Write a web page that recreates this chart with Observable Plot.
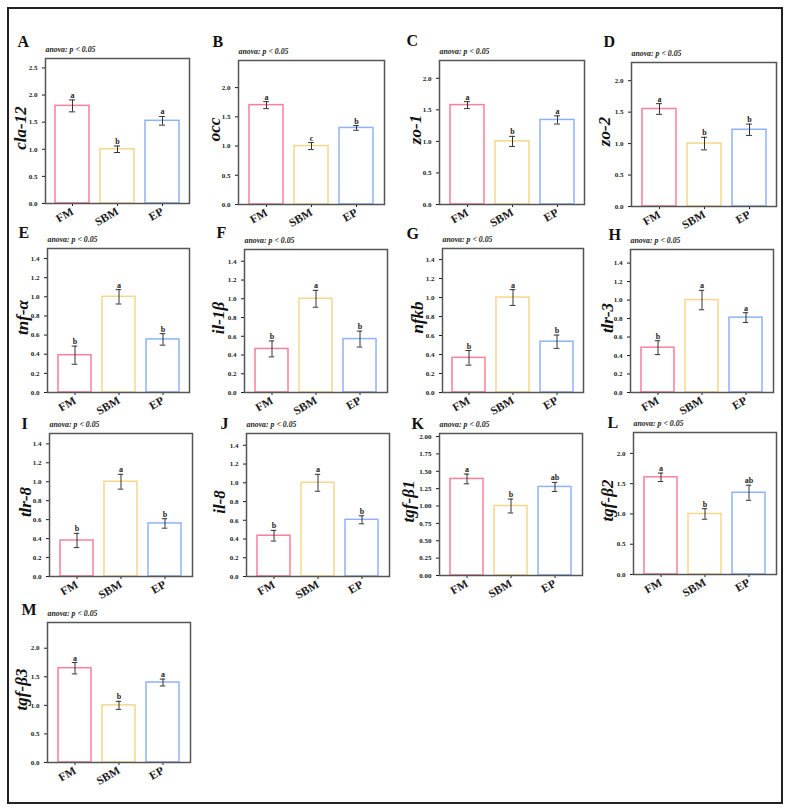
<!DOCTYPE html>
<html>
<head>
<meta charset="utf-8">
<script src="https://cdn.jsdelivr.net/npm/d3@7"></script>
<script src="https://cdn.jsdelivr.net/npm/@observablehq/plot@0.6"></script>
<style>
  html, body { margin: 0; padding: 0; background: #fff; }
  #page { position: relative; width: 790px; height: 811px; overflow: hidden;
          font-family: "Liberation Serif", "Times New Roman", serif; }
  #border { position: absolute; left: 7px; top: 7px; width: 772px; height: 793px;
            border: 2px solid #222; }
  .panel { position: absolute; }
  .panel svg { overflow: visible; }
  .panel svg g[aria-label="y-axis tick label"],
  .panel svg g[aria-label="x-axis tick label"] { font-weight: bold; }
</style>
</head>
<body>
<div id="page"><div id="border"></div></div>
<script>
// Diet groups and bar outline colours
const groups = ["FM", "SBM", "EP"];
const barColors = ["#fb7f9b", "#f5d78b", "#8fb3f7"];

// One entry per panel
const panelLetters = ["A", "B", "C", "D", "E", "F", "G", "H", "I", "J", "K", "L", "M"];
const genes = ["cla-12", "occ", "zo-1", "zo-2", "tnf-α", "il-1β", "nfkb", "tlr-3",
               "tlr-8", "il-8", "tgf-β1", "tgf-β2", "tgf-β3"];

// Relative expression (mean) for FM, SBM, EP
const means = [
  [1.80, 1.00, 1.525],
  [1.70, 1.00, 1.31],
  [1.575, 1.00, 1.34],
  [1.55, 1.00, 1.22],
  [0.39, 1.00, 0.555],
  [0.465, 1.00, 0.57],
  [0.365, 1.00, 0.535],
  [0.485, 1.00, 0.81],
  [0.38, 1.00, 0.56],
  [0.435, 1.00, 0.605],
  [1.39, 1.00, 1.275],
  [1.605, 1.00, 1.35],
  [1.65, 1.00, 1.40]
];

// Standard errors
const errors = [
  [0.11, 0.06, 0.08],
  [0.06, 0.06, 0.04],
  [0.055, 0.08, 0.065],
  [0.085, 0.10, 0.09],
  [0.095, 0.075, 0.06],
  [0.085, 0.09, 0.085],
  [0.077, 0.083, 0.07],
  [0.075, 0.105, 0.053],
  [0.075, 0.078, 0.05],
  [0.057, 0.09, 0.043],
  [0.07, 0.10, 0.065],
  [0.07, 0.087, 0.125],
  [0.10, 0.07, 0.06]
];

// Significance letters
const sigLetters = [
  ["a", "b", "a"], ["a", "c", "b"], ["a", "b", "a"], ["a", "b", "b"],
  ["b", "a", "b"], ["b", "a", "b"], ["b", "a", "b"], ["b", "a", "a"],
  ["b", "a", "b"], ["b", "a", "b"], ["a", "b", "ab"], ["a", "b", "ab"],
  ["a", "b", "a"]
];

// Y tick labels per panel
const ticksA = [0, 0.5, 1.0, 1.5, 2.0, 2.5];
const ticksHalf = [0, 0.5, 1.0, 1.5, 2.0];
const ticksFifth = [0, 0.2, 0.4, 0.6, 0.8, 1.0, 1.2, 1.4];
const ticksQuarter = [0, 0.25, 0.5, 0.75, 1.0, 1.25, 1.5, 1.75, 2.0];
const yTicks = [ticksA, ticksHalf, ticksHalf, ticksHalf, ticksFifth, ticksFifth, ticksFifth,
                ticksFifth, ticksFifth, ticksFifth, ticksQuarter, ticksHalf, ticksHalf];
const yFormats = [".1f", ".1f", ".1f", ".1f", ".1f", ".1f", ".1f", ".1f", ".1f", ".1f", ".2f", ".1f", ".1f"];

const anovaNote = "anova: p < 0.05";

// Page layout: plot frame [left, top, right, bottom], panel-letter offset [dx, dy],
// and horizontal offset of the rotated gene label from the frame's left edge
const frames = [
  [45, 58, 189, 203], [238, 60, 384, 204], [439, 60, 584, 204], [631, 62, 776, 206],
  [47, 248, 189, 392], [244, 249, 387, 392], [442, 248, 583, 392], [630, 249, 773, 392],
  [49, 433, 192, 576], [246, 433, 389, 576], [439, 433, 582, 575], [633, 432, 776, 574],
  [47, 622, 190, 762]
];
const letterOffsets = [
  [-28, -12], [-26, -14], [-33, -15], [-28, -16],
  [-29, -11], [-28, -12], [-36, -10], [-22, -10],
  [-28, -5], [-26, -5], [-28, -5], [-26, -5],
  [-26, -8]
];
const geneLabelDx = [-25, -24, -24, -27, -25, -26, -25, -23, -24, -27, -31, -26, -26];

const MARGIN = {l: 50, t: 40, r: 6, b: 40};
const PAD_INNER = 0.25, PAD_OUTER = 0.22;
const page = document.getElementById("page");

panelLetters.forEach((letter, i) => {
  const [x0, y0, x1, y1] = frames[i];
  const rows = groups.map((g, j) => ({
    group: g, mean: means[i][j], err: errors[i][j], sig: sigLetters[i][j]
  }));
  const yMax = 1.4 * d3.max(rows, d => d.mean + d.err);
  const innerW = x1 - x0;
  const step = innerW / (groups.length - PAD_INNER + 2 * PAD_OUTER);
  const capInset = (step * (1 - PAD_INNER) - 6) / 2;

  const chart = Plot.plot({
    width: innerW + MARGIN.l + MARGIN.r,
    height: y1 - y0 + MARGIN.t + MARGIN.b,
    marginLeft: MARGIN.l, marginTop: MARGIN.t, marginRight: MARGIN.r, marginBottom: MARGIN.b,
    style: {fontFamily: "'Liberation Serif', 'Times New Roman', serif", color: "#1a1a1a",
            background: "transparent", overflow: "visible"},
    x: {type: "band", domain: groups, paddingInner: PAD_INNER, paddingOuter: PAD_OUTER, label: null},
    y: {domain: [0, yMax], label: null},
    color: {domain: groups, range: barColors},
    marks: [
      Plot.barY(rows, {x: "group", y: "mean", fill: "white", stroke: "group", strokeWidth: 1.5}),
      Plot.ruleX(rows, {x: "group", y1: d => d.mean - d.err, y2: d => d.mean + d.err,
                        stroke: "#333", strokeWidth: 1}),
      Plot.tickY(rows, {x: "group", y: d => d.mean + d.err, stroke: "#333", strokeWidth: 1,
                        insetLeft: capInset, insetRight: capInset}),
      Plot.tickY(rows, {x: "group", y: d => d.mean - d.err, stroke: "#333", strokeWidth: 1,
                        insetLeft: capInset, insetRight: capInset}),
      Plot.text(rows, {x: "group", y: d => d.mean + d.err, text: "sig", dy: -2,
                       lineAnchor: "bottom", fontSize: 8, fontWeight: "bold", fill: "#222"}),
      Plot.axisY({ticks: yTicks[i], tickFormat: d3.format(yFormats[i]), tickSize: 3,
                  tickPadding: 5, fontSize: 7, fontWeight: "bold", label: null}),
      Plot.axisX({tickSize: 3, tickRotate: -30, tickPadding: 4, fontSize: 11.5,
                  fontWeight: "bold", label: null}),
      Plot.frame({stroke: "#555", strokeWidth: 1.5}),
      Plot.text([genes[i]], {text: d => d, frameAnchor: "left", dx: geneLabelDx[i], dy: -3,
                             rotate: -90, textAnchor: "middle", lineAnchor: "middle",
                             fontSize: 17, fontStyle: "italic", fontWeight: "bold", fill: "#111"}),
      Plot.text([letter], {text: d => d, frameAnchor: "top-left",
                           dx: letterOffsets[i][0], dy: letterOffsets[i][1],
                           textAnchor: "start", lineAnchor: "bottom",
                           fontSize: 16, fontWeight: "bold", fill: "#111"}),
      Plot.text([anovaNote], {text: d => d, frameAnchor: "top-left", dy: -7,
                              textAnchor: "start", lineAnchor: "bottom",
                              fontSize: 7.8, fontStyle: "italic", fontWeight: "bold", fill: "#222"})
    ]
  });

  const holder = document.createElement("div");
  holder.className = "panel";
  holder.style.left = (x0 - MARGIN.l) + "px";
  holder.style.top = (y0 - MARGIN.t) + "px";
  holder.appendChild(chart);
  page.appendChild(holder);
});
</script>
</body>
</html>
